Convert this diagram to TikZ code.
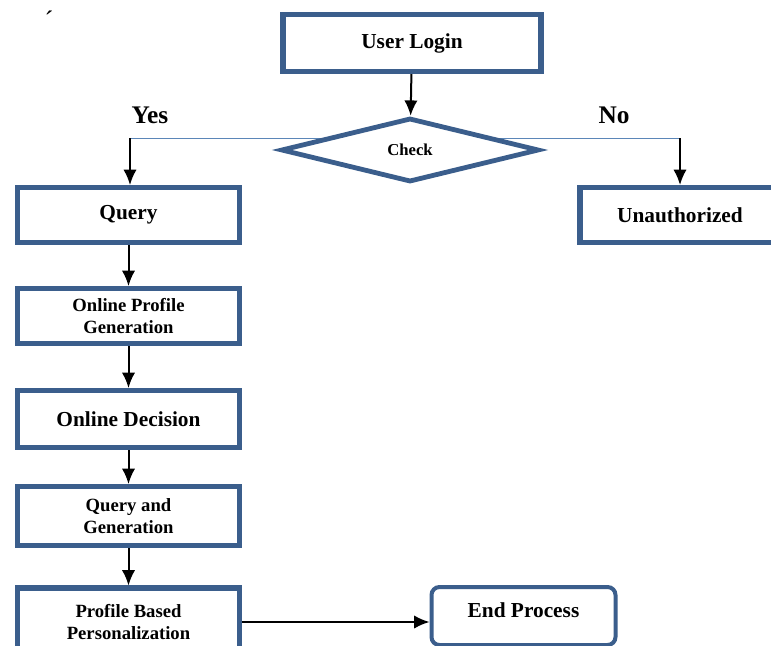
\documentclass[tikz,border=0pt]{standalone}
\usepackage{fontspec}
\setmainfont{Liberation Serif}
\usetikzlibrary{shapes.geometric,arrows.meta}
\definecolor{boxblue}{HTML}{3B5E8C}
\definecolor{lineblue}{HTML}{5B86B8}
\newcommand{\px}{0.75pt}

\begin{document}
\begin{tikzpicture}[x=0.75pt,y=-0.75pt,>={Latex[length=11.5pt,width=10pt]},
    stepbox/.style={draw=boxblue,line width=3.8pt,fill=white,align=center,
        font=\bfseries\fontsize{16}{18}\selectfont,inner sep=0pt},
    twoline/.style={stepbox,font=\bfseries\fontsize{14}{17}\selectfont},
    flow/.style={->,line width=1.5pt}]
        \useasboundingbox (0,0) rectangle (771,646);
        \clip (0,0) rectangle (771,646);

        \node (tick) at (49,20) {\fontsize{20}{20}\selectfont ´};

        \draw [thin,lineblue] (130,138) coordinate (yesc) -- (680,138) coordinate (noc);

        \node [stepbox,minimum width=258*\px,minimum height=57*\px] (login) at (412,43) {User Login};
        \node [diamond,draw=boxblue,line width=3.6pt,fill=white,minimum width=258*\px,
            minimum height=64*\px,inner sep=0pt,font=\bfseries\fontsize{12.5}{14}\selectfont]
            (check) at (410,150) {Check};

        \node [stepbox,minimum width=222*\px,minimum height=55*\px] (query) at (128.5,215) {Query};
        \node [stepbox,minimum width=200*\px,minimum height=55*\px] (unauth) at (680,215) {Unauthorized};
        \node [twoline,minimum width=222*\px,minimum height=55*\px] (opg) at (128.5,316)
            {Online Profile\\Generation};
        \node [stepbox,minimum width=222*\px,minimum height=57*\px] (dec) at (128.5,419) {Online Decision};
        \node [twoline,minimum width=222*\px,minimum height=59*\px] (qag) at (128.5,516)
            {Query and\\Generation};
        \node [twoline,minimum width=222*\px,minimum height=68*\px] (pbp) at (128.5,622)
            {Profile Based\\Personalization};
        \node [stepbox,rounded corners=6pt,line width=3pt,minimum width=184*\px,
            minimum height=58*\px,text depth=9pt] (endp) at (523.5,616) {End Process};

        \node [font=\bfseries\fontsize{19}{20}\selectfont] (yes) at (150,115) {Yes};
        \node [font=\bfseries\fontsize{19}{20}\selectfont] (no) at (614,115) {No};

        \draw [flow] (login) -- (check);
        \draw [flow] (yesc) -- (yesc |- query.north);
        \draw [flow] (noc) -- (noc |- unauth.north);
        \draw [flow] (query) -- (opg);
        \draw [flow] (opg) -- (dec);
        \draw [flow] (dec) -- (qag);
        \draw [flow] (qag) -- (pbp);
        \draw [flow] (pbp.east) -- (pbp.east -| endp.west);
    \end{tikzpicture}
\end{document}
